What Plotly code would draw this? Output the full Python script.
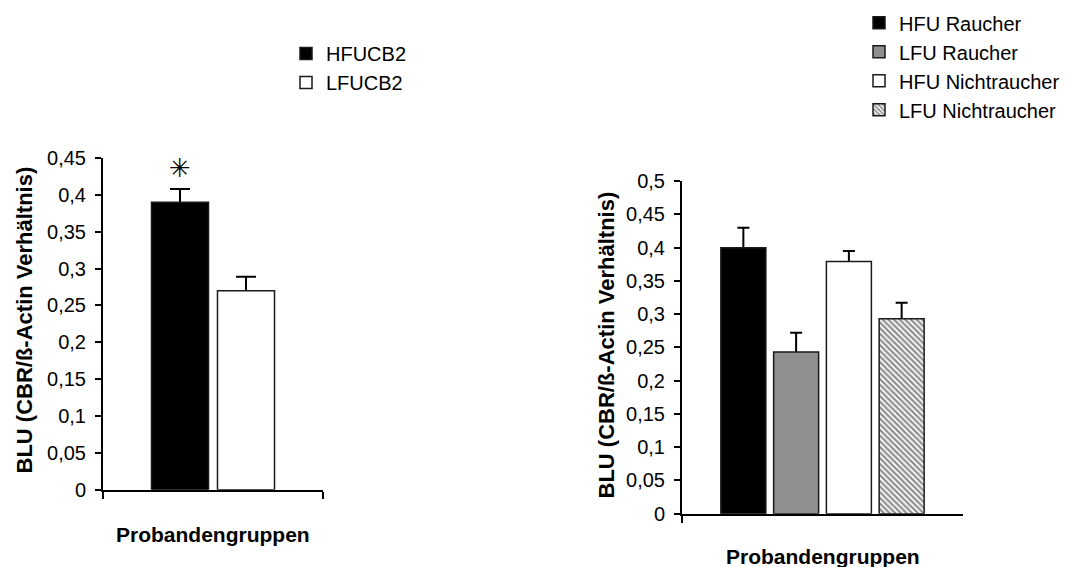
import plotly.graph_objects as go

# ---- data -------------------------------------------------------------
category = ["Probandengruppen"]

left_series = ["HFUCB2", "LFUCB2"]
left_values = [0.39, 0.27]
left_errors = [0.018, 0.019]
left_significant = [True, False]

right_series = ["HFU Raucher", "LFU Raucher", "HFU Nichtraucher", "LFU Nichtraucher"]
right_values = [0.40, 0.243, 0.379, 0.293]
right_errors = [0.030, 0.029, 0.016, 0.024]

y_title = "BLU (CBR/ß-Actin Verhältnis)"
x_title = "Probandengruppen"

# ---- styling ----------------------------------------------------------
FONT = "Liberation Sans, Arial, Helvetica, sans-serif"
EDGE = "#1a1a1a"

left_styles = [
    dict(color="black"),
    dict(color="white"),
]
right_styles = [
    dict(color="black"),
    dict(color="#8f8f8f"),
    dict(color="white"),
    dict(color="white",
         pattern=dict(shape="\\", fgcolor="#1e1e1e", bgcolor="white",
                      size=4, solidity=0.55)),
]


def group_layout(n, group_frac, inner_gap):
    """Offsets/widths (category units) for n side-by-side bars."""
    slot = group_frac / n
    width = slot * (1 - inner_gap)
    offsets = [-group_frac / 2 + i * slot + (slot - width) / 2 for i in range(n)]
    return offsets, width


fig = go.Figure()


def add_group(series, values, errors, styles, xa, ya, legend, group_frac,
              inner_gap, cap):
    offsets, width = group_layout(len(series), group_frac, inner_gap)
    # error whiskers first (transparent bars), so the filled bars drawn
    # afterwards hide the lower half and only the upper whisker shows
    for v, e, off in zip(values, errors, offsets):
        fig.add_trace(go.Bar(
            x=category, y=[v], xaxis=xa, yaxis=ya, showlegend=False,
            width=width, offset=off,
            marker=dict(color="rgba(0,0,0,0)", line=dict(width=0)),
            error_y=dict(type="data", array=[e], color="black",
                         thickness=2, width=cap),
            hoverinfo="skip",
        ))
    for name, v, st, off in zip(series, values, styles, offsets):
        fig.add_trace(go.Bar(
            x=category, y=[v], name=name,
            xaxis=xa, yaxis=ya, legend=legend,
            width=width, offset=off,
            marker=dict(line=dict(color=EDGE, width=1.5), **st),
            hoverinfo="skip",
        ))
    return offsets, width


l_off, l_w = add_group(left_series, left_values, left_errors, left_styles,
                       "x", "y", "legend", 0.60, 0.136, 10)
add_group(right_series, right_values, right_errors, right_styles,
          "x2", "y2", "legend2", 0.751, 0.147, 6)

# significance marker above the error bar
for off, v, e, sig in zip(l_off, left_values, left_errors, left_significant):
    if sig:
        fig.add_annotation(
            x=off + l_w / 2, y=v + e, xref="x", yref="y",
            text="✳", showarrow=False, yanchor="bottom", yshift=4,
            font=dict(family="DejaVu Sans", size=26, color="black"),
        )

# ---- axes -------------------------------------------------------------
W, H = 1075, 567
tick_font = dict(family=FONT, size=20, color="black")

xcommon = dict(type="category", range=[-0.5, 0.5], showline=True,
               linecolor="black", linewidth=2, ticks="outside",
               tickson="boundaries", ticklen=7, tickwidth=2,
               tickcolor="black", showticklabels=False, showgrid=False,
               zeroline=False, fixedrange=True)
ycommon = dict(showline=True, linecolor="black", linewidth=2,
               ticks="outside", ticklen=6, tickwidth=2, tickcolor="black",
               dtick=0.05, tick0=0, tickformat=".2~f", tickfont=tick_font,
               ticklabelstandoff=5, showgrid=False, zeroline=False,
               fixedrange=True)

fig.update_layout(
    xaxis=dict(domain=[103 / W, 323 / W], anchor="y", **xcommon),
    yaxis=dict(domain=[(H - 498) / H, (H - 153) / H], anchor="x",
               range=[0, 0.45], **ycommon),
    xaxis2=dict(domain=[682 / W, 963 / W], anchor="y2", **xcommon),
    yaxis2=dict(domain=[(H - 523) / H, (H - 177) / H], anchor="x2",
                range=[0, 0.5], **ycommon),
)

# ---- axis titles ------------------------------------------------------
title_font = dict(family=FONT, size=21, color="black", weight="bold")
for x, y, text, ang, size in [
    (25, 322, y_title, -90, 22),
    (606, 348, y_title, -90, 22),
    (213, 545, x_title, 0, 21),
    (823, 567, x_title, 0, 21),
]:
    fig.add_annotation(x=x / W, y=(H - y) / H, xref="paper", yref="paper",
                       text=text, textangle=ang, showarrow=False,
                       xanchor="center", yanchor="middle",
                       font=dict(title_font, size=size))

# ---- legends ----------------------------------------------------------
legend_font = dict(family=FONT, size=20, color="black")
fig.update_layout(
    legend=dict(x=286 / W, y=(H - 24) / H, xanchor="left", yanchor="top",
                font=legend_font, bgcolor="rgba(0,0,0,0)", itemclick=False,
                itemdoubleclick=False, tracegroupgap=0),
    legend2=dict(x=859 / W, y=(H + 8) / H, xanchor="left", yanchor="top",
                 font=legend_font, bgcolor="rgba(0,0,0,0)", itemclick=False,
                 itemdoubleclick=False, tracegroupgap=0),
    barmode="overlay",
    separators=",.",
    width=W, height=H,
    margin=dict(l=0, r=0, t=0, b=0),
    paper_bgcolor="white", plot_bgcolor="white",
    showlegend=True,
)

fig.write_html("out.html")
